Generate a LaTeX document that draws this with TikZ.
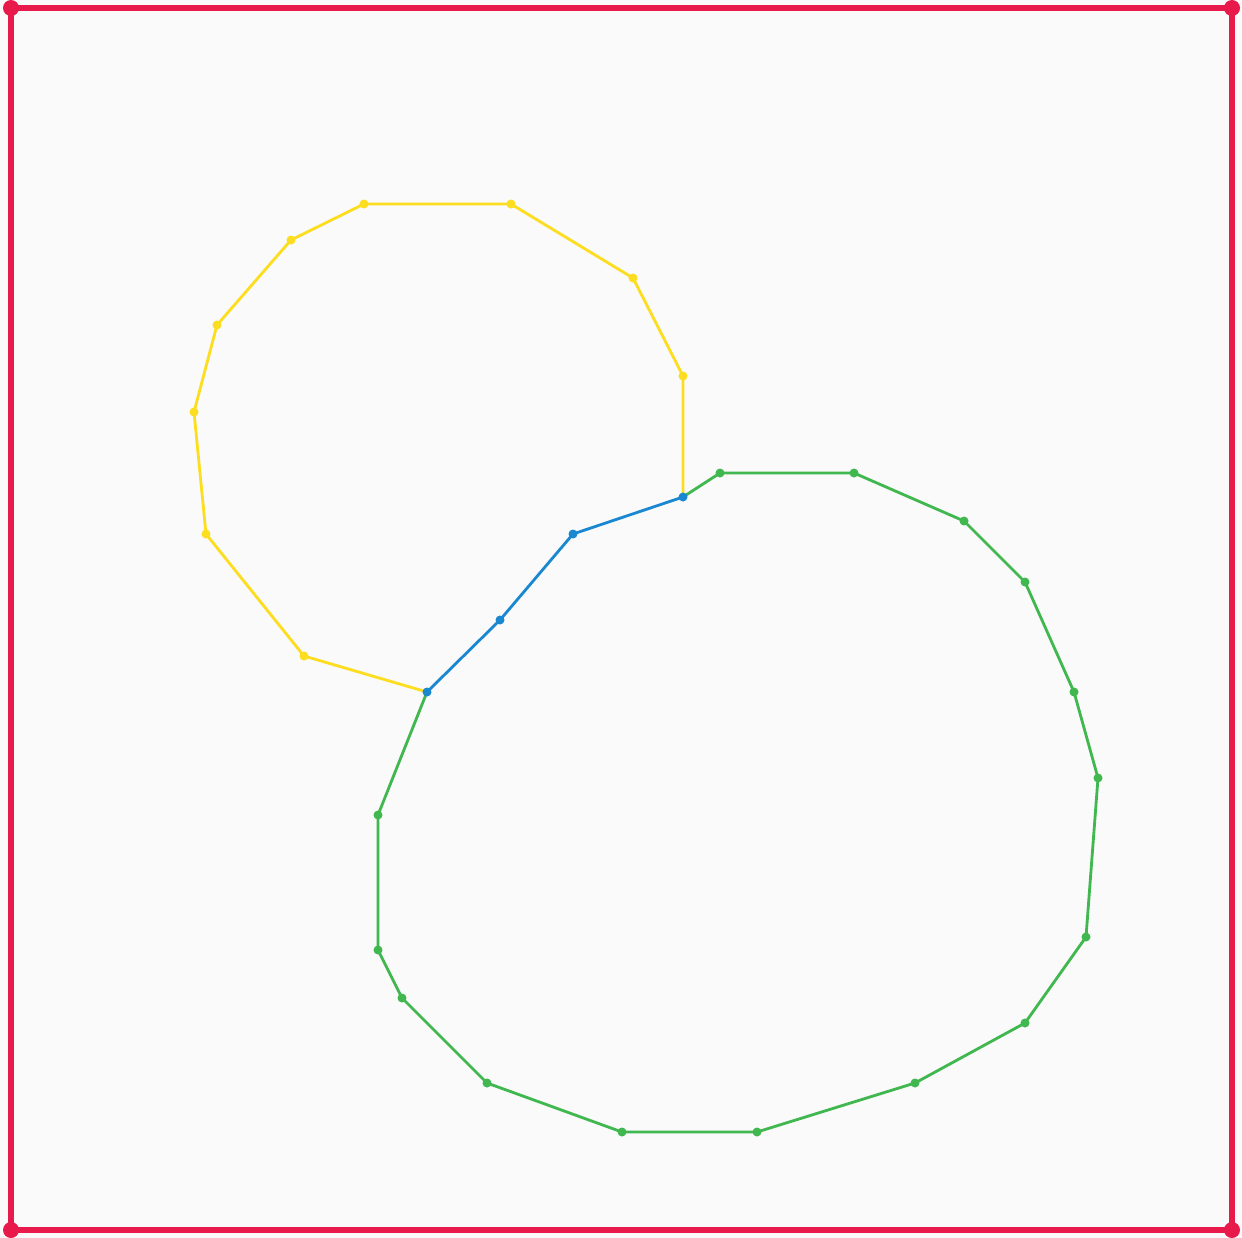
\documentclass[tikz,border=0pt]{standalone}
\usetikzlibrary{backgrounds}
\definecolor{bg}{HTML}{FAFAFA}
\definecolor{cred}{HTML}{E8194B}
\definecolor{cyel}{HTML}{FDDD1F}
\definecolor{cblu}{HTML}{1A88D0}
\definecolor{cgrn}{HTML}{40B74F}
\tikzset{
  edgeY/.style={draw=cyel, line width=1.6pt, line join=round},
  edgeB/.style={draw=cblu, line width=1.6pt, line join=round},
  edgeG/.style={draw=cgrn, line width=1.6pt, line join=round},
  edgeR/.style={draw=cred, line width=3.8pt, line join=round},
  dot/.style={circle, inner sep=0pt, minimum size=0.18cm},
  bigdot/.style={circle, inner sep=0pt, minimum size=0.32cm, fill=cred},
}
\begin{document}
\begin{tikzpicture}[x=0.02cm,y=-0.02cm]
\fill[bg] (0,0) rectangle (1242,1238);
\useasboundingbox (0,0) rectangle (1242,1238);
% border
\coordinate (r1) at (11,8);
\coordinate (r2) at (1232,8);
\coordinate (r3) at (1232,1230);
\coordinate (r4) at (11,1230);
\draw[edgeR] (r1) -- (r2) -- (r3) -- (r4) -- cycle;
\foreach \n in {r1,r2,r3,r4} \node[bigdot] at (\n) {};
% yellow
\coordinate (y0) at (683,497);
\coordinate (y1) at (683,376);
\coordinate (y2) at (633,278);
\coordinate (y3) at (511,204);
\coordinate (y4) at (364,204);
\coordinate (y5) at (291,240);
\coordinate (y6) at (217,325);
\coordinate (y7) at (194,412);
\coordinate (y8) at (206,534);
\coordinate (y9) at (304,656);
\coordinate (y10) at (427,692);
% blue
\coordinate (b1) at (500,620);
\coordinate (b2) at (573,534);
% green
\coordinate (g1) at (720,473);
\coordinate (g2) at (854,473);
\coordinate (g3) at (964,521);
\coordinate (g4) at (1025,582);
\coordinate (g5) at (1074,692);
\coordinate (g6) at (1098,778);
\coordinate (g7) at (1086,937);
\coordinate (g8) at (1025,1023);
\coordinate (g9) at (915,1083);
\coordinate (g10) at (757,1132);
\coordinate (g11) at (622,1132);
\coordinate (g12) at (487,1083);
\coordinate (g13) at (402,998);
\coordinate (g14) at (378,950);
\coordinate (g15) at (378,815);
\draw[edgeY] (y0) -- (y1) -- (y2) -- (y3) -- (y4) -- (y5) -- (y6) -- (y7) -- (y8) -- (y9) -- (y10);
\draw[edgeG] (y0) -- (g1) -- (g2) -- (g3) -- (g4) -- (g5) -- (g6) -- (g7) -- (g8) -- (g9) -- (g10) -- (g11) -- (g12) -- (g13) -- (g14) -- (g15) -- (y10);
\draw[edgeB] (y10) -- (b1) -- (b2) -- (y0);
\foreach \n in {y1,y2,y3,y4,y5,y6,y7,y8,y9} \node[dot, fill=cyel] at (\n) {};
\foreach \n in {g1,g2,g3,g4,g5,g6,g7,g8,g9,g10,g11,g12,g13,g14,g15} \node[dot, fill=cgrn] at (\n) {};
\foreach \n in {y0,y10,b1,b2} \node[dot, fill=cblu] at (\n) {};
\end{tikzpicture}
\end{document}
